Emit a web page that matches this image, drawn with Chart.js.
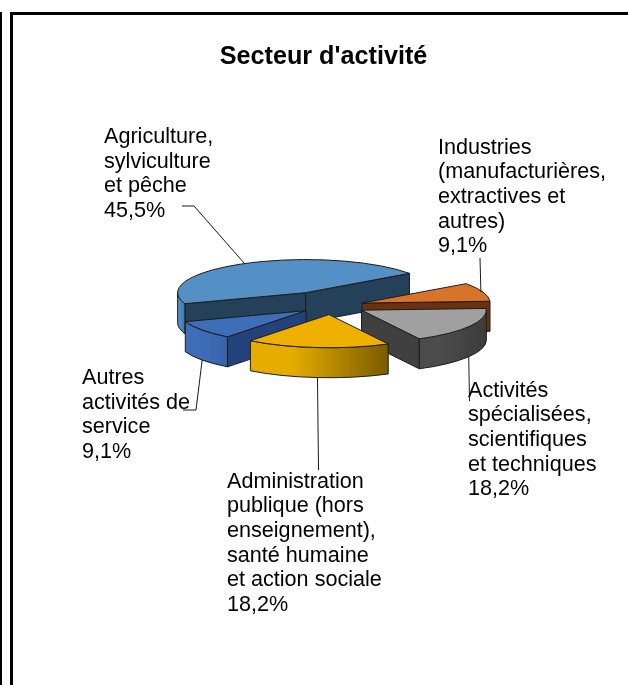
<!DOCTYPE html>
<html>
<head>
<meta charset="utf-8">
<style>
  html, body { margin: 0; padding: 0; background: #fff; overflow: hidden; }
  #wrap { position: relative; width: 628px; height: 685px; }
  canvas { position: absolute; left: 0; top: 0; }
  .rule { position: absolute; background: #000; }
</style>
<script src="https://cdn.jsdelivr.net/npm/chart.js@4/dist/chart.umd.min.js"></script>
</head>
<body>
<div id="wrap">
  <div class="rule" style="left:0;top:12px;width:2px;height:673px"></div>
  <div class="rule" style="left:10px;top:12px;width:2.5px;height:673px"></div>
  <div class="rule" style="left:10px;top:12px;width:618px;height:2.5px"></div>
  <canvas id="myChart" width="628" height="685"></canvas>
</div>
<script>
const chartTitle = "Secteur d'activité";
const categories = [
  ['Agriculture,', 'sylviculture', 'et pêche'],
  ['Industries', '(manufacturières,', 'extractives et', 'autres)'],
  ['Activités', 'spécialisées,', 'scientifiques', 'et techniques'],
  ['Administration', 'publique (hors', 'enseignement),', 'santé humaine', 'et action sociale'],
  ['Autres', 'activités de', 'service']
];
const values = [45.5, 9.1, 18.2, 18.2, 9.1];
const valueLabels = ['45,5%', '9,1%', '18,2%', '18,2%', '9,1%'];

const topColors = ['#5490c6', '#d9732a', '#a0a0a0', '#efb000', '#3f6eb8'];
const cutColors = ['#254059', '#6a3212', '#404040', '#806000', '#24427c'];
const wallLeft = ['#508cc4', '#a85a20', '#4c4c4c', '#e6ac00', '#3f6eb8'];
const wallRight = ['#3f78ae', '#7a3e14', '#3c3c3c', '#7a5c00', '#3763aa'];

// draw order, back to front
const drawOrder = [0, 1, 2, 4, 3];
const explode = [57, 32, 34, 34, 32];
const shrink = [1, 1, 0.975, 1, 1];
const tilt = 0.259;
const depth = 30;

// text anchor and leader elbow for each slice
const labelBox = [
  { x: 104, y: 143, nudge: -2, elbow: [[194, 206], [182, 206]] },
  { x: 438, y: 153.5, nudge: -2, elbow: [[480, 258]] },
  { x: 468, y: 396.5, nudge: -4, elbow: [[469.5, 401]] },
  { x: 227, y: 487.5, nudge: 0, elbow: [[318.5, 470]] },
  { x: 82, y: 384, nudge: 0, elbow: [[196, 410], [183, 410]] }
];
const lineHeight = 24.7;

const pie3d = {
  id: 'pie3d',
  beforeDatasetDraw(chart, args) {
    const ctx = chart.ctx;
    const arcs = args.meta.data;

    drawOrder.forEach((i) => {
      const arc = arcs[i];
      const R = arc.outerRadius * shrink[i];
      const a0 = arc.startAngle;
      const a1 = arc.endAngle;
      const mid = (a0 + a1) / 2;
      const ax = arc.x + Math.cos(mid) * explode[i];
      const ay = arc.y + Math.sin(mid) * explode[i] * tilt;
      const px = (a) => ax + Math.cos(a) * R;
      const py = (a) => ay + Math.sin(a) * R * tilt;

      ctx.save();
      ctx.lineWidth = 1;
      ctx.strokeStyle = '#1c1c1c';
      ctx.lineJoin = 'round';

      // cut faces turned toward the viewer
      [a0, a1].forEach((a, side) => {
        const visible = side === 0 ? -Math.cos(a) > 0 : Math.cos(a) > 0;
        if (!visible) return;
        ctx.beginPath();
        ctx.moveTo(ax, ay);
        ctx.lineTo(px(a), py(a));
        ctx.lineTo(px(a), py(a) + depth);
        ctx.lineTo(ax, ay + depth);
        ctx.closePath();
        ctx.fillStyle = cutColors[i];
        ctx.fill();
        ctx.stroke();
      });

      // rim, only the front half of the ellipse shows
      for (let k = 0; k < 3; k++) {
        const from = Math.max(a0, k * 2 * Math.PI);
        const to = Math.min(a1, k * 2 * Math.PI + Math.PI);
        if (from >= to) continue;
        const grad = ctx.createLinearGradient(px(to), 0, px(from), 0);
        grad.addColorStop(0, wallLeft[i]);
        grad.addColorStop(0.3, wallLeft[i]);
        grad.addColorStop(1, wallRight[i]);
        ctx.beginPath();
        ctx.ellipse(ax, ay, R, R * tilt, 0, from, to);
        ctx.lineTo(px(to), py(to) + depth);
        ctx.ellipse(ax, ay + depth, R, R * tilt, 0, to, from, true);
        ctx.closePath();
        ctx.fillStyle = grad;
        ctx.fill();
        ctx.stroke();
      }
      ctx.restore();

      // top face, the library's own arc squashed into the tilted plane
      ctx.save();
      ctx.translate(ax, ay);
      ctx.scale(shrink[i], tilt * shrink[i]);
      ctx.translate(-arc.x, -arc.y);
      arc.draw(ctx);
      ctx.restore();

      ctx.save();
      ctx.lineWidth = 1;
      ctx.strokeStyle = '#1c1c1c';
      ctx.beginPath();
      ctx.moveTo(ax, ay);
      ctx.ellipse(ax, ay, R, R * tilt, 0, a0, a1);
      ctx.closePath();
      ctx.stroke();
      ctx.restore();
    });
    return false;
  },
  afterDatasetsDraw(chart) {
    const ctx = chart.ctx;
    const arcs = chart.getDatasetMeta(0).data;
    ctx.save();
    ctx.fillStyle = '#000';
    ctx.textBaseline = 'alphabetic';
    ctx.textAlign = 'center';
    ctx.font = 'bold 25.2px "Liberation Sans", Arial, sans-serif';
    ctx.fillText(chartTitle, 323.5, 64);

    ctx.textAlign = 'left';
    ctx.font = '21.6px "Liberation Sans", Arial, sans-serif';
    categories.forEach((lines, i) => {
      const box = labelBox[i];
      lines.concat(valueLabels[i]).forEach((line, n) => {
        ctx.fillText(line, box.x, box.y + n * lineHeight);
      });

      // leader starts on the slice rim at its mid angle
      const arc = arcs[i];
      const mid = (arc.startAngle + arc.endAngle) / 2;
      const ax = arc.x + Math.cos(mid) * (explode[i] + arc.outerRadius) + box.nudge;
      const ay = arc.y + Math.sin(mid) * (explode[i] + arc.outerRadius) * tilt
        + (Math.sin(mid) > 0 ? depth : 0);
      ctx.beginPath();
      ctx.strokeStyle = '#1a1a1a';
      ctx.lineWidth = 1;
      ctx.moveTo(ax, ay);
      box.elbow.forEach((p) => ctx.lineTo(p[0], p[1]));
      ctx.stroke();
    });
    ctx.restore();
  }
};

new Chart(document.getElementById('myChart').getContext('2d'), {
  type: 'pie',
  data: {
    labels: categories.map((c) => c.join(' ')),
    datasets: [{
      data: values,
      backgroundColor: topColors,
      borderWidth: 0
    }]
  },
  options: {
    responsive: false,
    animation: false,
    rotation: 250.6,
    radius: 128,
    layout: { padding: { left: 36, bottom: 73.4 } },
    plugins: { legend: { display: false }, tooltip: { enabled: false } }
  },
  plugins: [pie3d]
});
</script>
</body>
</html>
